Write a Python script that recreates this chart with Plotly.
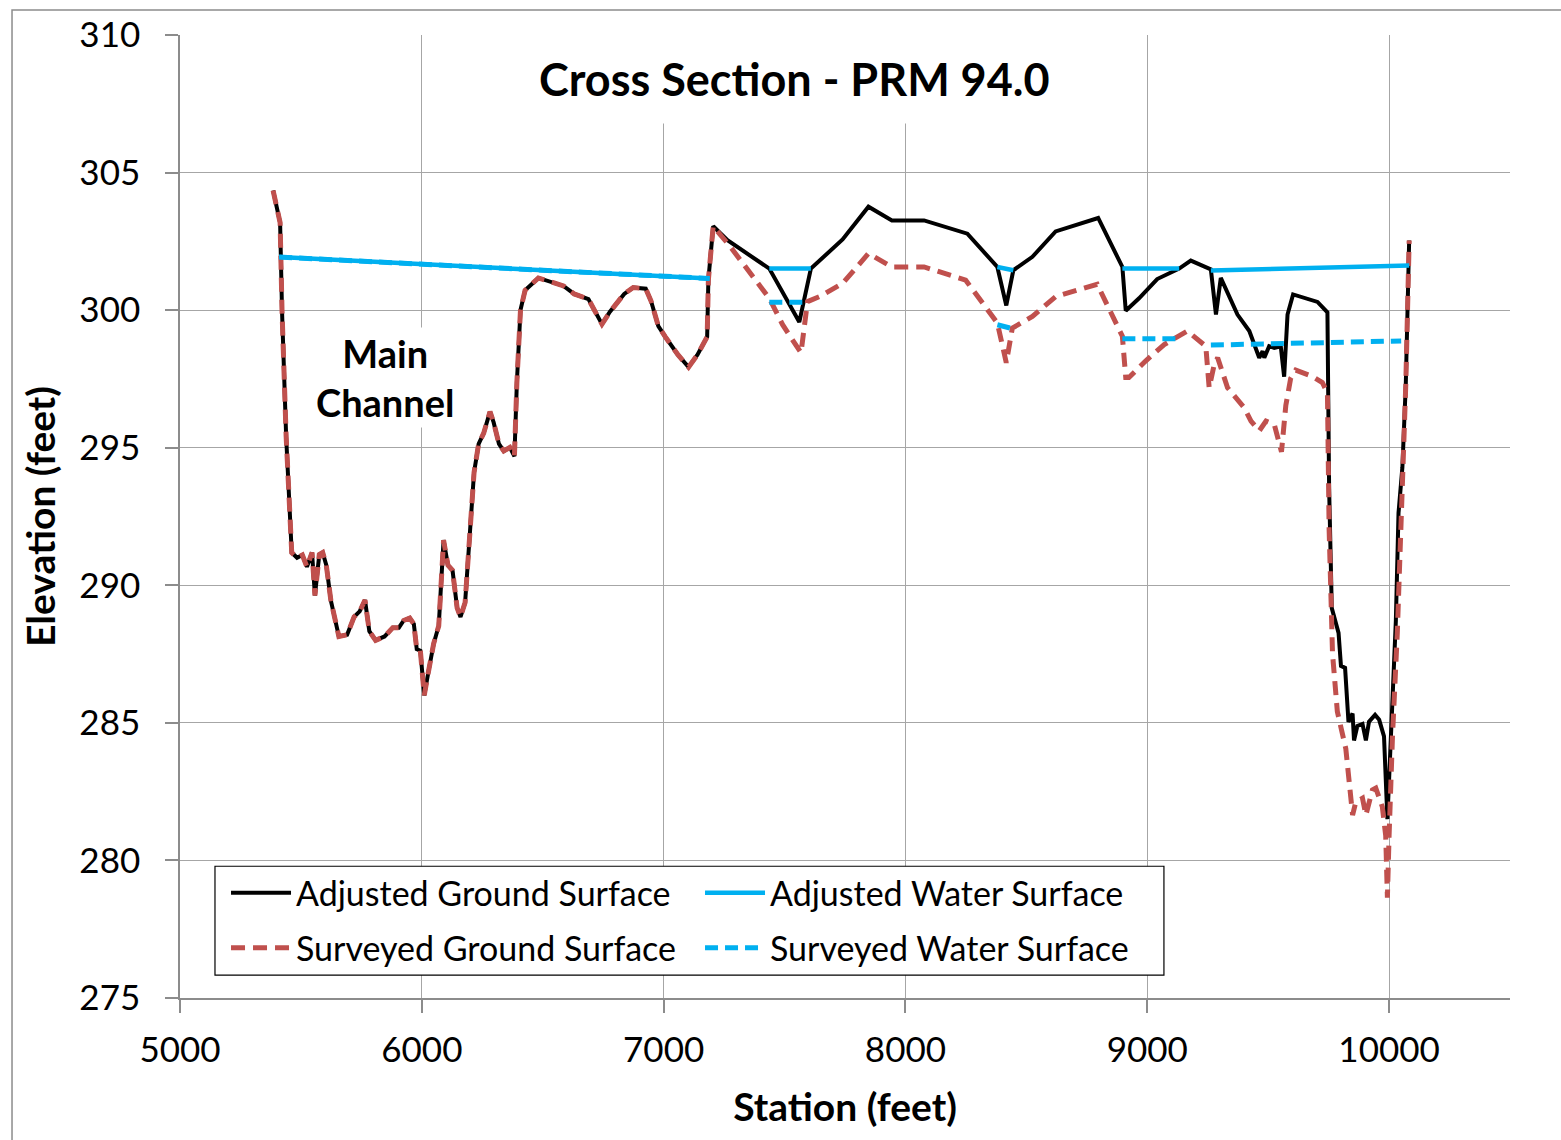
import plotly.graph_objects as go

# ---- Cross-section data (station in feet, elevation in feet) ----
# Ground profile shared by both surveys across the main channel and left overbank
shared_station = [5385, 5414, 5422, 5439, 5462, 5484, 5506, 5525, 5546, 5558, 5576, 5590,
                  5605, 5624, 5657, 5691, 5720, 5743, 5765, 5783, 5809, 5846, 5880, 5905,
                  5925, 5950, 5967, 5979, 5994, 6010, 6027, 6049, 6070, 6090, 6108, 6127,
                  6146, 6160, 6179, 6201, 6216, 6235, 6256, 6282, 6297, 6319, 6339, 6364,
                  6383, 6393, 6408, 6427, 6482, 6586, 6630, 6689, 6711, 6745, 6778, 6837,
                  6874, 6926, 6948, 6978, 7007, 7059, 7103, 7140, 7180, 7185, 7205]
shared_elev = [304.35, 303.18, 299.94, 295.40, 291.19, 291.00, 291.10, 290.67, 291.19, 289.63,
               291.12, 291.19, 290.73, 289.44, 288.14, 288.20, 288.85, 289.05, 289.46, 288.33,
               288.00, 288.14, 288.46, 288.46, 288.72, 288.81, 288.59, 287.68, 287.62, 286.00,
               286.84, 287.88, 288.53, 291.64, 290.73, 290.54, 289.18, 288.85, 289.37, 292.16,
               294.10, 295.14, 295.53, 296.31, 295.92, 295.14, 294.88, 295.01, 294.69, 297.35,
               300.00, 300.72, 301.17, 300.88, 300.59, 300.40, 300.07, 299.49, 299.94, 300.59,
               300.82, 300.78, 300.33, 299.42, 299.03, 298.38, 297.93, 298.38, 299.03, 301.10,
               303.05]

# Adjusted ground surface, right overbank
adj_ground_station = [7264, 7437, 7561, 7609, 7740, 7847, 7944, 8077, 8256, 8380, 8417, 8446,
                      8525, 8621, 8797, 8897, 8911, 8966, 9041, 9132, 9180, 9263, 9284, 9304,
                      9373, 9422, 9442, 9463, 9477, 9484, 9504, 9525, 9552, 9566, 9580, 9603,
                      9704, 9745, 9752, 9763, 9791, 9801, 9818, 9832, 9849, 9855, 9869, 9890,
                      9904, 9917, 9942, 9959, 9979, 9993, 10028, 10039, 10055, 10069, 10083]
adj_ground_elev = [302.54, 301.51, 299.57, 301.51, 302.57, 303.76, 303.26, 303.26, 302.78,
                   301.57, 300.17, 301.45, 301.94, 302.86, 303.35, 301.57, 299.98, 300.43,
                   301.13, 301.51, 301.80, 301.48, 299.84, 301.17, 299.84, 299.24, 298.81,
                   298.27, 298.51, 298.27, 298.69, 298.63, 298.69, 297.58, 299.84, 300.57,
                   300.30, 299.92, 293.53, 289.17, 288.27, 287.07, 287.00, 285.04, 285.34,
                   284.36, 284.89, 284.96, 284.36, 285.04, 285.29, 285.11, 284.51, 281.50,
                   288.72, 292.63, 294.29, 297.29, 302.53]

# Surveyed ground surface, right overbank
srv_ground_station = [7271, 7437, 7492, 7568, 7595, 7644, 7740, 7847, 7944, 8077, 8249, 8380,
                      8417, 8442, 8525, 8621, 8793, 8897, 8911, 8924, 8993, 9070, 9166, 9242,
                      9256, 9277, 9291, 9332, 9401, 9429, 9463, 9491, 9525, 9555, 9573, 9593,
                      9614, 9683, 9724, 9745, 9752, 9766, 9786, 9821, 9835, 9849, 9862, 9890,
                      9904, 9931, 9945, 9972, 9986, 9993, 10000, 10014, 10034, 10055, 10069,
                      10083]
srv_ground_elev = [302.36, 300.43, 299.47, 298.45, 300.31, 300.49, 300.97, 302.06, 301.57,
                   301.57, 301.09, 299.53, 298.09, 299.35, 299.77, 300.49, 300.94, 299.05,
                   297.55, 297.55, 298.15, 298.75, 299.24, 298.69, 297.18, 298.03, 298.27,
                   297.18, 296.45, 295.97, 295.61, 295.97, 295.85, 294.85, 296.54, 297.52,
                   297.82, 297.59, 297.37, 296.99, 292.03, 287.52, 285.41, 284.06, 282.71,
                   281.65, 282.11, 282.26, 281.65, 282.56, 282.63, 281.95, 280.90, 278.65,
                   280.90, 284.51, 288.27, 293.53, 297.29, 302.53]

# Water surfaces (None separates the ponded reaches)
adj_water_station = [5410, 7190, None, 7437, 7609, None, 8380, 8446, None, 8897, 9132, None,
                     9263, 10083]
adj_water_elev = [301.93, 301.15, None, 301.51, 301.51, None, 301.57, 301.45, None, 301.51,
                  301.51, None, 301.44, 301.62]

srv_water_station = [5410, 7190, None, 7437, 7582, None, 8380, 8442, None, 8897, 9140, None,
                     9263, 10050]
srv_water_elev = [301.93, 301.15, None, 300.29, 300.29, None, 299.47, 299.33, None, 298.96,
                  298.96, None, 298.73, 298.88]

x_ticks = [5000, 6000, 7000, 8000, 9000, 10000]
y_ticks = [275, 280, 285, 290, 295, 300, 305, 310]

FONT = "Lato, Carlito, Calibri, sans-serif"
RED = "#C0504D"
CYAN = "#00B0F0"
GRID = "#A6A6A6"
AXIS = "#8C8C8C"

fig = go.Figure()

# ground lines first, water surfaces on top
fig.add_trace(go.Scatter(
    x=shared_station + adj_ground_station, y=shared_elev + adj_ground_elev,
    mode="lines", name="Adjusted Ground Surface", legend="legend", legendrank=1,
    line=dict(color="black", width=4)))
fig.add_trace(go.Scatter(
    x=shared_station + srv_ground_station, y=shared_elev + srv_ground_elev,
    mode="lines", name="Surveyed Ground Surface", legend="legend2", legendrank=1,
    line=dict(color=RED, width=5, dash="14px,8px")))
fig.add_trace(go.Scatter(
    x=srv_water_station, y=srv_water_elev,
    mode="lines", name="Surveyed Water Surface", legend="legend2", legendrank=2,
    line=dict(color=CYAN, width=5, dash="13px,7px")))
fig.add_trace(go.Scatter(
    x=adj_water_station, y=adj_water_elev,
    mode="lines", name="Adjusted Water Surface", legend="legend", legendrank=2,
    line=dict(color=CYAN, width=4.5)))

fig.add_annotation(
    x=7543, y=308.4, xref="x", yref="y", showarrow=False,
    text="<b>Cross Section - PRM 94.0</b>",
    font=dict(family=FONT, size=45, color="black"),
    bgcolor="white", borderpad=17)

fig.add_annotation(
    x=5848, y=297.55, xref="x", yref="y", showarrow=False,
    text="<b>Main<br>Channel</b>",
    font=dict(family=FONT, size=38, color="black"),
    bgcolor="white", borderpad=2)

# outer chart frame (left and top edges fall inside the page)
fig.add_shape(type="rect", xref="paper", yref="paper",
              x0=-0.1263, x1=1.5, y0=-0.5, y1=1.0259,
              line=dict(color=AXIS, width=1.5), layer="below")

# legend frame: white box with black border behind the two legend rows
fig.add_shape(type="rect", xref="paper", yref="paper",
              x0=0.0263, x1=0.7398, y0=0.0238, y1=0.1368,
              line=dict(color="black", width=1.2), fillcolor="white", layer="above")

legend_common = dict(
    orientation="h", xanchor="left", yanchor="middle",
    bgcolor="rgba(0,0,0,0)", borderwidth=0,
    font=dict(family=FONT, size=34, color="black"),
    itemwidth=60, entrywidth=399, entrywidthmode="pixels",
    traceorder="normal")

fig.update_layout(
    width=1561, height=1140,
    margin=dict(l=180, r=51, t=33, b=142),
    paper_bgcolor="white", plot_bgcolor="white",
    font=dict(family=FONT, color="black"),
    showlegend=True,
    legend=dict(legend_common, x=0.0346, y=0.1088),
    legend2=dict(legend_common, x=0.0346, y=0.0518),
)

fig.update_xaxes(
    range=[5000, 10500], tickvals=x_ticks, ticktext=[str(v) for v in x_ticks],
    showgrid=True, gridcolor=GRID, gridwidth=1,
    showline=True, linecolor=AXIS, linewidth=1.5,
    ticks="outside", ticklen=13, tickcolor=AXIS, tickwidth=1.5,
    tickfont=dict(family=FONT, size=35, color="black"), ticklabelstandoff=7,
    title=dict(text="<b>Station (feet)</b>", font=dict(family=FONT, size=39, color="black"),
               standoff=26),
    zeroline=False)

fig.update_yaxes(
    range=[275, 310], tickvals=y_ticks, ticktext=[str(v) for v in y_ticks],
    showgrid=True, gridcolor=GRID, gridwidth=1,
    showline=True, linecolor=AXIS, linewidth=1.5,
    ticks="outside", ticklen=13, tickcolor=AXIS, tickwidth=1.5,
    tickfont=dict(family=FONT, size=35, color="black"), ticklabelstandoff=18,
    title=dict(text="<b>Elevation (feet)</b>", font=dict(family=FONT, size=39, color="black"),
               standoff=12),
    zeroline=False)

fig.write_html("out.html")
